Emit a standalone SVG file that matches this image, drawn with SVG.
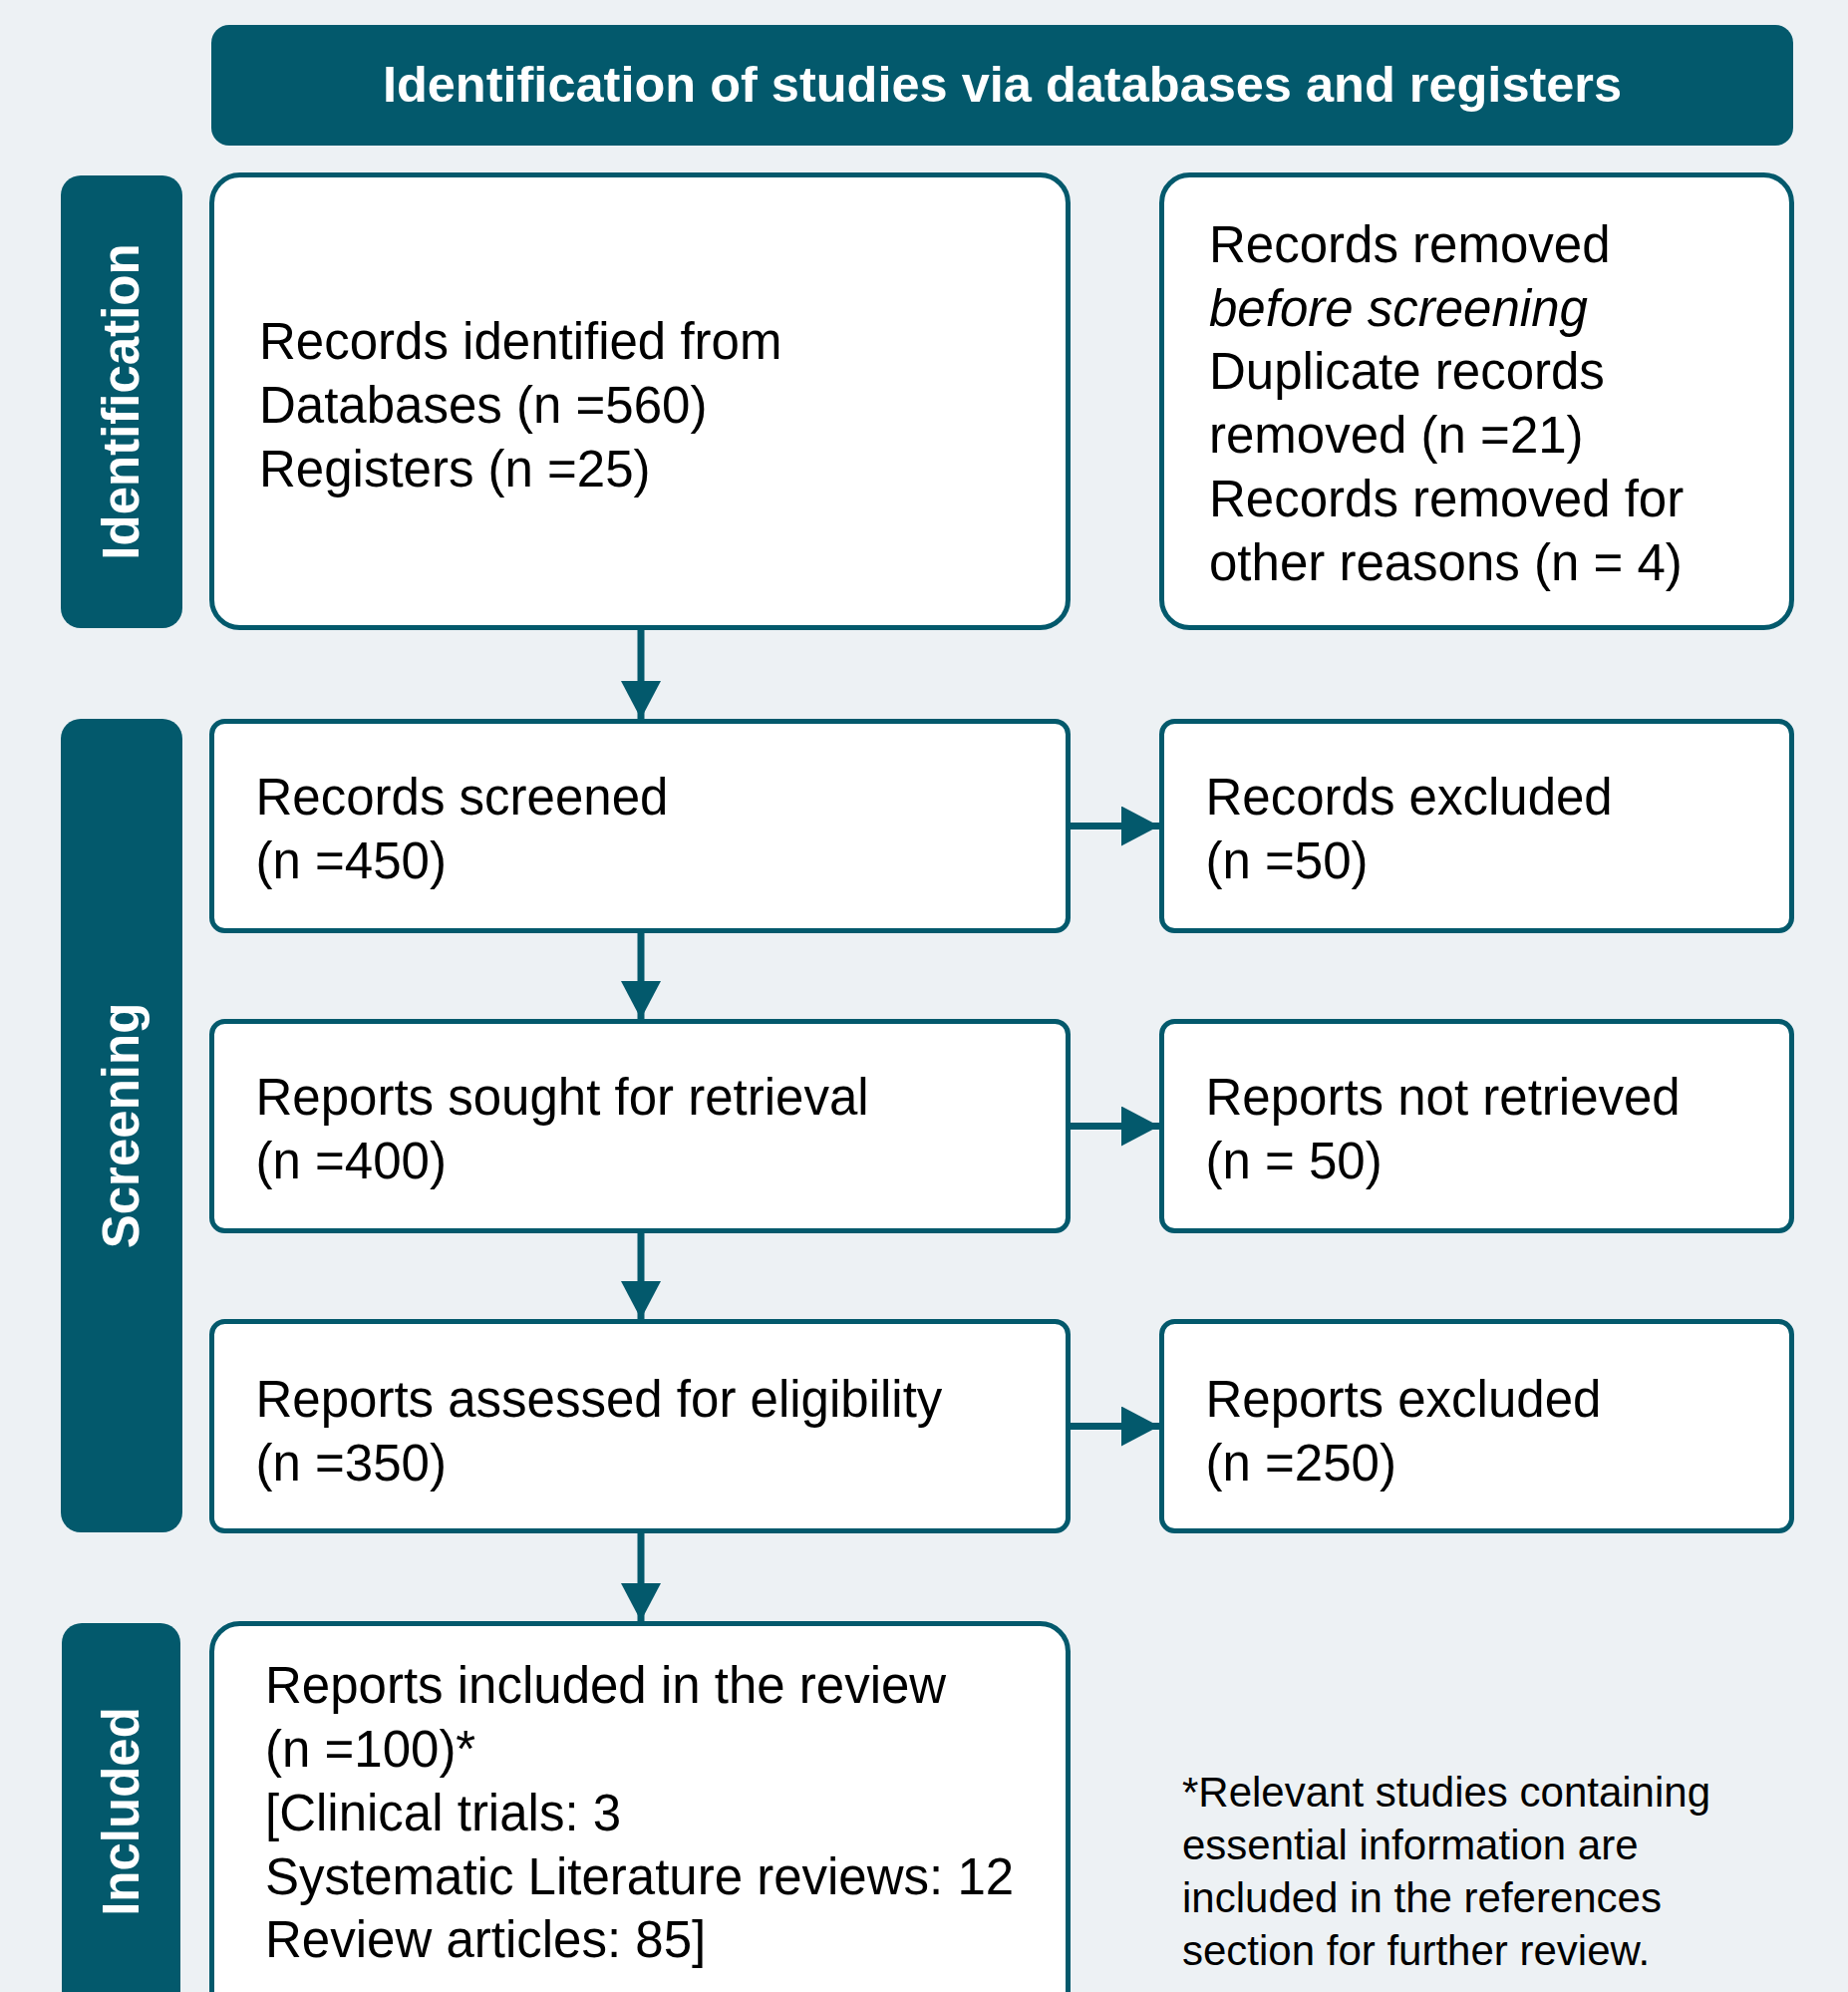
<svg xmlns="http://www.w3.org/2000/svg" width="1854" height="1998" viewBox="0 0 1854 1998">
  <style>
    .bg { fill: #edf1f4; }
    .band { fill: #03596c; }
    .box { fill: #ffffff; stroke: #03596c; stroke-width: 5; }
    .txt { font-family: "Liberation Sans", Arial, sans-serif; font-size: 51px; fill: #000000; }
    .note { font-family: "Liberation Sans", Arial, sans-serif; font-size: 42px; fill: #000000; }
    .hdr { font-family: "Liberation Sans", Arial, sans-serif; font-size: 50.5px; font-weight: bold; fill: #ffffff; }
    .side { font-family: "Liberation Sans", Arial, sans-serif; font-size: 51px; font-weight: bold; fill: #ffffff; }
    .conn { stroke: #03596c; stroke-width: 7; fill: none; }
  </style>
  <defs>
    <marker id="arrow" markerUnits="userSpaceOnUse" markerWidth="40" markerHeight="40" refX="38" refY="20" orient="auto">
      <path d="M0,0 L38,20 L0,40 Z" fill="#03596c"/>
    </marker>
  </defs>

  <rect class="bg" x="0" y="0" width="1854" height="1998"/>

  <g id="header">
    <rect class="band" x="212" y="25" width="1587" height="121" rx="18" ry="18"/>
    <text class="hdr" x="1005.5" y="102" text-anchor="middle">Identification of studies via databases and registers</text>
  </g>

  <g id="side-identification">
    <rect class="band" x="61" y="176" width="122" height="454" rx="20" ry="20"/>
    <text class="side" transform="translate(139,403) rotate(-90)" text-anchor="middle">Identification</text>
  </g>
  <g id="side-screening">
    <rect class="band" x="61" y="721" width="122" height="816" rx="20" ry="20"/>
    <text class="side" transform="translate(139,1129) rotate(-90)" text-anchor="middle">Screening</text>
  </g>
  <g id="side-included">
    <rect class="band" x="62" y="1628" width="119" height="390" rx="20" ry="20"/>
    <text class="side" transform="translate(139,1817) rotate(-90)" text-anchor="middle">Included</text>
  </g>

  <g id="records-identified">
    <rect class="box" x="212.5" y="175.5" width="859" height="454" rx="28" ry="28"/>
    <text class="txt" x="260" y="360">Records identified from</text>
    <text class="txt" x="260" y="424">Databases (n =560)</text>
    <text class="txt" x="260" y="488">Registers (n =25)</text>
  </g>

  <g id="records-removed">
    <rect class="box" x="1165.5" y="175.5" width="632" height="454" rx="28" ry="28"/>
    <text class="txt" x="1213" y="263">Records removed</text>
    <text class="txt" x="1213" y="327" font-style="italic">before screening</text>
    <text class="txt" x="1213" y="390">Duplicate records</text>
    <text class="txt" x="1213" y="454">removed (n =21)</text>
    <text class="txt" x="1213" y="518">Records removed for</text>
    <text class="txt" x="1213" y="582">other reasons (n = 4)</text>
  </g>

  <g id="records-screened">
    <rect class="box" x="212.5" y="723.5" width="859" height="210" rx="13" ry="13"/>
    <text class="txt" x="256.5" y="817">Records screened</text>
    <text class="txt" x="256.5" y="881">(n =450)</text>
  </g>

  <g id="records-excluded">
    <rect class="box" x="1165.5" y="723.5" width="632" height="210" rx="13" ry="13"/>
    <text class="txt" x="1209.5" y="817">Records excluded</text>
    <text class="txt" x="1209.5" y="881">(n =50)</text>
  </g>

  <g id="reports-sought">
    <rect class="box" x="212.5" y="1024.5" width="859" height="210" rx="13" ry="13"/>
    <text class="txt" x="256.5" y="1118">Reports sought for retrieval</text>
    <text class="txt" x="256.5" y="1182">(n =400)</text>
  </g>

  <g id="reports-not-retrieved">
    <rect class="box" x="1165.5" y="1024.5" width="632" height="210" rx="13" ry="13"/>
    <text class="txt" x="1209.5" y="1118">Reports not retrieved</text>
    <text class="txt" x="1209.5" y="1182">(n = 50)</text>
  </g>

  <g id="reports-assessed">
    <rect class="box" x="212.5" y="1325.5" width="859" height="210" rx="13" ry="13"/>
    <text class="txt" x="256.5" y="1421">Reports assessed for eligibility</text>
    <text class="txt" x="256.5" y="1485">(n =350)</text>
  </g>

  <g id="reports-excluded">
    <rect class="box" x="1165.5" y="1325.5" width="632" height="210" rx="13" ry="13"/>
    <text class="txt" x="1209.5" y="1421">Reports excluded</text>
    <text class="txt" x="1209.5" y="1485">(n =250)</text>
  </g>

  <g id="reports-included">
    <rect class="box" x="212.5" y="1628.5" width="859" height="400" rx="28" ry="28"/>
    <text class="txt" x="266" y="1708">Reports included in the review</text>
    <text class="txt" x="266" y="1772">(n =100)*</text>
    <text class="txt" x="266" y="1836">[Clinical trials: 3</text>
    <text class="txt" x="266" y="1900">Systematic Literature reviews: 12</text>
    <text class="txt" x="266" y="1963">Review articles: 85]</text>
  </g>

  <g id="footnote">
    <text class="note" x="1186" y="1812">*Relevant studies containing</text>
    <text class="note" x="1186" y="1865">essential information are</text>
    <text class="note" x="1186" y="1918">included in the references</text>
    <text class="note" x="1186" y="1971">section for further review.</text>
  </g>

  <g id="connectors">
    <line class="conn" x1="643" y1="632" x2="643" y2="721" marker-end="url(#arrow)"/>
    <line class="conn" x1="643" y1="936" x2="643" y2="1022" marker-end="url(#arrow)"/>
    <line class="conn" x1="643" y1="1237" x2="643" y2="1323" marker-end="url(#arrow)"/>
    <line class="conn" x1="643" y1="1538" x2="643" y2="1626" marker-end="url(#arrow)"/>
    <line class="conn" x1="1074" y1="828.5" x2="1163" y2="828.5" marker-end="url(#arrow)"/>
    <line class="conn" x1="1074" y1="1129.5" x2="1163" y2="1129.5" marker-end="url(#arrow)"/>
    <line class="conn" x1="1074" y1="1430.5" x2="1163" y2="1430.5" marker-end="url(#arrow)"/>
  </g>
</svg>
